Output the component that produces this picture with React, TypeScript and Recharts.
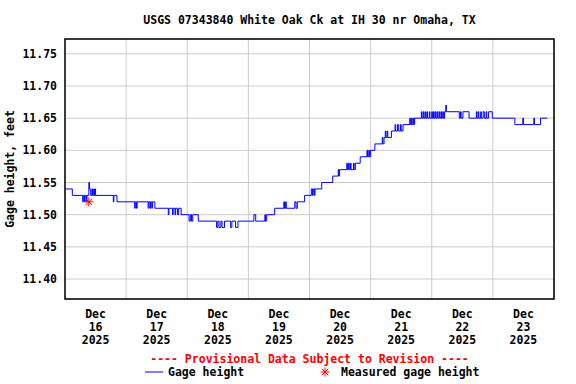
import React from "react";
import {
  ComposedChart,
  Line,
  Scatter,
  XAxis,
  YAxis,
  CartesianGrid,
  ReferenceArea,
} from "recharts";

// time in days since 2025-12-16 00:00 (step changes of the 15-min record)
const gageTimes = [
  0, 0.12, 0.29, 0.3, 0.32, 0.33, 0.35, 0.36, 0.39, 0.4, 0.42, 0.44, 0.45, 0.47, 0.48, 0.49, 0.5,
  0.79, 0.8, 0.85, 1.14, 1.15, 1.17, 1.18, 1.36, 1.37, 1.39, 1.4, 1.42, 1.43, 1.47,
  1.69, 1.7, 1.76, 1.77, 1.8, 1.81, 1.84, 1.86, 1.9, 2.03, 2.05, 2.07, 2.09, 2.18,
  2.48, 2.5, 2.52, 2.55, 2.57, 2.61, 2.71, 2.73, 2.79, 2.83, 3.09, 3.12, 3.27, 3.28, 3.3,
  3.43, 3.58, 3.59, 3.61, 3.62, 3.76, 3.78, 3.8, 3.92, 4.03, 4.05, 4.06, 4.08, 4.09,
  4.2, 4.38, 4.47, 4.48, 4.49, 4.61, 4.62, 4.64, 4.65, 4.67, 4.68, 4.72, 4.73, 4.75,
  4.83, 4.94, 4.95, 4.97, 4.98, 5.0, 5.07, 5.19, 5.2, 5.22, 5.24, 5.25, 5.27, 5.28,
  5.34, 5.4, 5.41, 5.44, 5.46, 5.49, 5.5, 5.53, 5.64, 5.65, 5.67, 5.68, 5.7, 5.71, 5.72,
  5.83, 5.84, 5.86, 5.87, 5.89, 5.9, 5.92, 5.93, 5.96, 5.97, 6.0, 6.01, 6.03, 6.04,
  6.06, 6.07, 6.09, 6.1, 6.12, 6.13, 6.15, 6.16, 6.18, 6.19, 6.21, 6.23, 6.24,
  6.45, 6.47, 6.48, 6.51, 6.61, 6.73, 6.74, 6.76, 6.77, 6.8, 6.81, 6.84, 6.86, 6.89, 6.9,
  6.93, 6.99, 7.36, 7.49, 7.5, 7.67, 7.68, 7.78, 7.89,
];
const gageHeights = [
  11.54, 11.53, 11.52, 11.53, 11.52, 11.53, 11.52, 11.53, 11.55, 11.54, 11.53, 11.54, 11.53, 11.54, 11.53, 11.54, 11.53,
  11.52, 11.53, 11.52, 11.51, 11.52, 11.51, 11.52, 11.51, 11.52, 11.51, 11.52, 11.51, 11.52, 11.51,
  11.5, 11.51, 11.5, 11.51, 11.5, 11.51, 11.5, 11.51, 11.5, 11.49, 11.5, 11.49, 11.5, 11.49,
  11.48, 11.49, 11.48, 11.49, 11.48, 11.49, 11.48, 11.49, 11.48, 11.49, 11.5, 11.49, 11.5, 11.49, 11.5,
  11.51, 11.52, 11.51, 11.52, 11.51, 11.52, 11.51, 11.52, 11.53, 11.54, 11.53, 11.54, 11.53, 11.54,
  11.55, 11.56, 11.57, 11.56, 11.57, 11.58, 11.57, 11.58, 11.57, 11.58, 11.57, 11.58, 11.57, 11.58,
  11.59, 11.6, 11.59, 11.6, 11.59, 11.6, 11.61, 11.62, 11.61, 11.62, 11.63, 11.62, 11.63, 11.62,
  11.63, 11.64, 11.63, 11.64, 11.63, 11.64, 11.63, 11.64, 11.65, 11.64, 11.65, 11.64, 11.65, 11.64, 11.65,
  11.66, 11.65, 11.66, 11.65, 11.66, 11.65, 11.66, 11.65, 11.66, 11.65, 11.66, 11.65, 11.66, 11.65,
  11.66, 11.65, 11.66, 11.65, 11.66, 11.65, 11.66, 11.65, 11.66, 11.65, 11.66, 11.67, 11.66,
  11.65, 11.66, 11.65, 11.66, 11.65, 11.66, 11.65, 11.66, 11.65, 11.66, 11.65, 11.66, 11.65, 11.66, 11.65,
  11.66, 11.65, 11.64, 11.65, 11.64, 11.65, 11.64, 11.65, 11.65,
];

const measuredTimes = [0.39];
const measuredHeights = [11.52];

const dayLabelPositions = [0.5, 1.5, 2.5, 3.5, 4.5, 5.5, 6.5, 7.5];
const dayLabels = ["16", "17", "18", "19", "20", "21", "22", "23"];
const monthLabel = "Dec";
const yearLabel = "2025";
const gridDays = [1, 2, 3, 4, 5, 6, 7];
const yTicks = [11.4, 11.45, 11.5, 11.55, 11.6, 11.65, 11.7, 11.75];
const yDomain = [11.369, 11.773];
const xDomain = [0, 8];

const title = "USGS 07343840 White Oak Ck at IH 30 nr Omaha, TX";
const yLabel = "Gage height, feet";
const provisional = "---- Provisional Data Subject to Revision ----";
const legendGage = "Gage height";
const legendMeasured = "Measured gage height";

const FONT = "'DejaVu Sans Mono', monospace";

const gageData = gageTimes.map((t, i) => ({ t, v: gageHeights[i] }));
const measuredData = measuredTimes.map((t, i) => ({ t, v: measuredHeights[i] }));

const StarShape = (props: any) => {
  const { cx, cy } = props;
  const r = 4.5;
  const d = r * 0.7071;
  return (
    <g stroke="#ff0000" strokeWidth={1}>
      <line x1={cx - r} y1={cy} x2={cx + r} y2={cy} />
      <line x1={cx} y1={cy - r} x2={cx} y2={cy + r} />
      <line x1={cx - d} y1={cy - d} x2={cx + d} y2={cy + d} />
      <line x1={cx - d} y1={cy + d} x2={cx + d} y2={cy - d} />
    </g>
  );
};

const XTick = (props: any) => {
  const { x, y, payload } = props;
  const idx = dayLabelPositions.indexOf(payload.value);
  return (
    <text
      x={x}
      y={y}
      textAnchor="middle"
      fontFamily={FONT}
      fontWeight="bold"
      fontSize={11.5}
      fill="#000"
    >
      <tspan x={x} dy={19}>{monthLabel}</tspan>
      <tspan x={x} dy={13}>{dayLabels[idx]}</tspan>
      <tspan x={x} dy={13}>{yearLabel}</tspan>
    </text>
  );
};

const YTick = (props: any) => {
  const { x, y, payload } = props;
  return (
    <text
      x={x}
      y={y}
      dy="0.36em"
      textAnchor="end"
      fontFamily={FONT}
      fontWeight="bold"
      fontSize={11.5}
      fill="#000"
    >
      {payload.value.toFixed(2)}
    </text>
  );
};

export default function App() {
  return (
    <div style={{ position: "absolute", left: 0, top: 0, width: 576, height: 384, background: "#fff" }}>
      <ComposedChart
        width={576}
        height={384}
        margin={{ top: 39, right: 22, bottom: 0, left: 5 }}
        data={gageData}
      >
        <XAxis xAxisId="grid" type="number" dataKey="t" domain={xDomain} ticks={gridDays} hide />
        <CartesianGrid xAxisId="grid" stroke="#cccccc" strokeWidth={1} />
        <XAxis
          type="number"
          dataKey="t"
          domain={xDomain}
          ticks={dayLabelPositions}
          tick={<XTick />}
          tickLine={false}
          axisLine={false}
          tickSize={0}
          tickMargin={0}
          height={85}
          allowDataOverflow
        />
        <YAxis
          type="number"
          domain={yDomain}
          ticks={yTicks}
          tick={<YTick />}
          tickLine={false}
          axisLine={false}
          tickSize={0}
          tickMargin={8}
          width={60}
          allowDataOverflow
        />
        <Line
          type="stepAfter"
          dataKey="v"
          stroke="#0000ff"
          strokeWidth={1}
          dot={false}
          activeDot={false}
          isAnimationActive={false}
        />
        <Scatter data={measuredData} dataKey="v" shape={<StarShape />} isAnimationActive={false} />
        <ReferenceArea
          x1={xDomain[0]}
          x2={xDomain[1]}
          y1={yDomain[0]}
          y2={yDomain[1]}
          fill="none"
          fillOpacity={0}
          stroke="#000"
          strokeWidth={1.5}
          ifOverflow="visible"
        />
      </ComposedChart>
      <div
        style={{
          position: "absolute",
          left: 0,
          top: 0,
          width: 576,
          height: 384,
          pointerEvents: "none",
        }}
      >
        <svg width={576} height={384}>
          <text x={309.5} y={23.5} textAnchor="middle" fontFamily={FONT} fontWeight="bold" fontSize={11.5} fill="#000">
            {title}
          </text>
          <text
            x={0}
            y={0}
            transform="translate(14,169) rotate(-90)"
            textAnchor="middle"
            fontFamily={FONT}
            fontWeight="bold"
            fontSize={11.5}
            fill="#000"
          >
            {yLabel}
          </text>
          <text x={309.5} y={363} textAnchor="middle" fontFamily={FONT} fontWeight="bold" fontSize={11.5} fill="#ff0000">
            {provisional}
          </text>
          <line x1={145} y1={372} x2={163} y2={372} stroke="#0000ff" strokeWidth={1} />
          <text x={168} y={376} fontFamily={FONT} fontWeight="bold" fontSize={11.5} fill="#000">
            {legendGage}
          </text>
          <StarShape cx={325} cy={372} />
          <text x={341} y={376} fontFamily={FONT} fontWeight="bold" fontSize={11.5} fill="#000">
            {legendMeasured}
          </text>
        </svg>
      </div>
    </div>
  );
}
